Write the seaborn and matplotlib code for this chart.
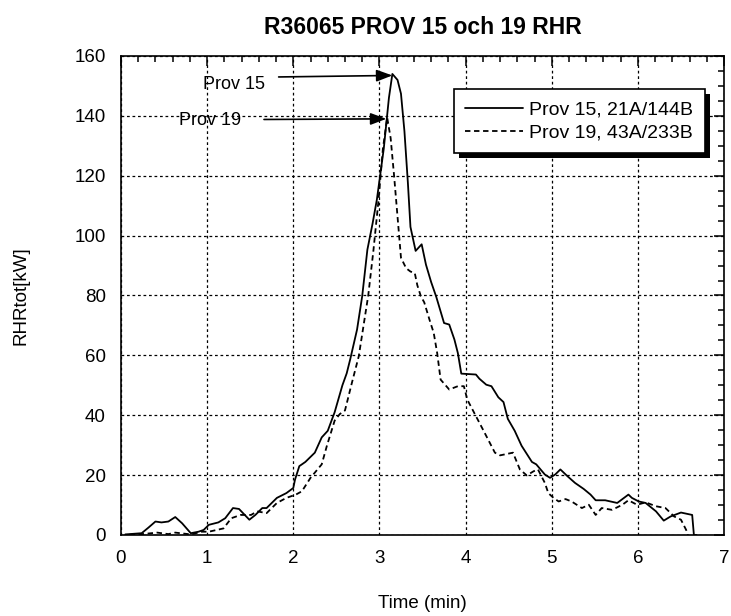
import matplotlib
matplotlib.use("Agg")
import matplotlib.pyplot as plt
from matplotlib.patches import Rectangle
from matplotlib.transforms import IdentityTransform
from matplotlib.ticker import MultipleLocator
import pandas as pd
import seaborn as sns

# Time (min) and total heat release rate (kW) for the two tests
t15 = [0.05, 0.10, 0.24, 0.32, 0.40, 0.47, 0.55, 0.63, 0.71, 0.81,
       0.90, 0.96, 1.02, 1.13, 1.21, 1.30, 1.37, 1.49, 1.56, 1.64,
       1.69, 1.81, 1.92, 2.00, 2.02, 2.07, 2.14, 2.25, 2.33, 2.40,
       2.48, 2.57, 2.62, 2.66, 2.74, 2.80, 2.86, 2.92, 2.97, 3.05,
       3.11, 3.15, 3.21, 3.25, 3.29, 3.33, 3.36, 3.42, 3.49, 3.54,
       3.60, 3.66, 3.75, 3.81, 3.87, 3.91, 3.95, 4.12, 4.16, 4.24,
       4.30, 4.38, 4.44, 4.49, 4.57, 4.65, 4.77, 4.82, 4.92, 4.98,
       5.04, 5.10, 5.18, 5.27, 5.37, 5.45, 5.51, 5.62, 5.76, 5.89,
       5.93, 6.01, 6.09, 6.21, 6.30, 6.38, 6.50, 6.63, 6.65, 6.68]
rhr15 = [0.2, 0.3, 0.6, 2.5, 4.5, 4.2, 4.5, 6.0, 3.9, 0.6,
         1.1, 1.7, 3.4, 4.2, 5.6, 9.0, 8.7, 5.1, 6.7, 9.0,
         9.0, 12.4, 14.0, 15.7, 18.5, 23.0, 24.4, 27.5, 32.6, 34.8,
         41.0, 50.0, 54.0, 58.6, 68.6, 79.8, 95.3, 104.0, 112.0, 129.0,
         146.0, 154.0, 152.0, 147.4, 134.9, 117.7, 102.9, 94.9, 97.1, 90.3,
         84.5, 79.5, 70.8, 70.3, 65.3, 60.8, 53.9, 53.6, 52.2, 50.2,
         49.7, 46.0, 44.4, 38.8, 34.8, 29.8, 24.4, 23.6, 20.2, 19.1,
         20.2, 21.9, 19.7, 17.4, 15.4, 13.5, 11.6, 11.6, 10.7, 13.5,
         12.4, 11.2, 10.7, 7.9, 4.8, 6.2, 7.5, 6.7, 0.0, 0.0]

t19 = [0.10, 0.25, 0.42, 0.55, 0.63, 0.81, 0.94, 1.02, 1.19, 1.28,
       1.39, 1.51, 1.58, 1.69, 1.81, 1.92, 2.03, 2.10, 2.20, 2.33,
       2.39, 2.48, 2.54, 2.60, 2.68, 2.76, 2.82, 2.87, 2.93, 2.99,
       3.04, 3.09, 3.13, 3.17, 3.21, 3.25, 3.31, 3.36, 3.41, 3.44,
       3.48, 3.52, 3.58, 3.63, 3.67, 3.71, 3.81, 3.91, 3.98, 4.02,
       4.10, 4.20, 4.34, 4.40, 4.55, 4.63, 4.71, 4.79, 4.84, 4.92,
       4.96, 5.02, 5.08, 5.16, 5.23, 5.35, 5.43, 5.51, 5.58, 5.70,
       5.82, 5.89, 5.99, 6.09, 6.21, 6.32, 6.42, 6.50, 6.56, 6.58]
rhr19 = [0.1, 0.3, 0.8, 0.3, 0.8, 0.2, 1.1, 1.1, 2.2, 5.6,
         6.7, 6.7, 7.9, 7.3, 10.7, 12.4, 13.5, 14.6, 19.1, 23.6,
         29.8, 38.2, 40.4, 41.6, 50.8, 59.7, 70.8, 80.0, 95.0, 112.0,
         129.0, 139.4, 132.6, 120.0, 106.3, 92.6, 89.1, 88.0, 87.5, 83.4,
         79.8, 77.7, 72.0, 67.5, 60.8, 51.9, 48.6, 49.7, 49.7, 45.2,
         40.8, 35.3, 27.5, 26.6, 27.5, 21.9, 19.9, 21.3, 21.9, 17.4,
         14.0, 12.4, 11.2, 12.0, 11.2, 9.0, 10.1, 6.7, 9.0, 8.4,
         10.1, 11.6, 10.1, 10.9, 9.6, 9.0, 6.2, 5.1, 1.7, 0.0]

label15 = "Prov 15, 21A/144B"
label19 = "Prov 19, 43A/233B"
peak_labels = ["Prov 15", "Prov 19"]
x_ticks = [0, 1, 2, 3, 4, 5, 6, 7]
y_ticks = [0, 20, 40, 60, 80, 100, 120, 140, 160]

df = pd.concat([
    pd.DataFrame({"time": t15, "rhr": rhr15, "prov": label15}),
    pd.DataFrame({"time": t19, "rhr": rhr19, "prov": label19}),
], ignore_index=True)

sns.set_theme(style="white")
plt.rcParams["font.family"] = ["Liberation Sans", "DejaVu Sans"]
plt.rcParams["text.color"] = "black"
plt.rcParams["axes.labelcolor"] = "black"
plt.rcParams["xtick.color"] = "black"
plt.rcParams["ytick.color"] = "black"

fig = plt.figure(figsize=(7.31, 6.16), dpi=100)
ax = fig.add_axes([0.1655, 0.1315, 0.825, 0.7776])

sns.lineplot(data=df, x="time", y="rhr", hue="prov", style="prov",
             palette={label15: "black", label19: "black"},
             dashes={label15: "", label19: (3, 2)},
             estimator=None, sort=False, linewidth=1.3, ax=ax)

ax.set_xlim(0, 7)
ax.set_ylim(0, 160)
ax.set_xticks(x_ticks)
ax.set_yticks(y_ticks)
ax.xaxis.set_minor_locator(MultipleLocator(0.2))
ax.yaxis.set_minor_locator(MultipleLocator(5))
ax.tick_params(which="both", direction="in", top=True, right=True,
               labelsize=13.5, width=1.1, colors="black")
ax.tick_params(which="major", length=7, pad=11)
ax.tick_params(which="minor", length=4.5)
for sp in ax.spines.values():
    sp.set_color("black")
    sp.set_linewidth(1.2)

ax.grid(True, which="major", color="black", linestyle=(0, (2.2, 2.2)),
        linewidth=0.9)

ax.set_xlabel("Time (min)", fontsize=13.5)
ax.set_ylabel("RHRtot[kW]", fontsize=13.5)
ax.xaxis.set_label_coords(0.5, -0.125)
ax.yaxis.set_label_coords(-0.152, 0.5)
ax.set_title("R36065 PROV 15 och 19 RHR", fontsize=16.5,
             fontweight="bold", pad=16)

# Peak markers
arrow_style = dict(arrowstyle="-|>,head_length=0.8,head_width=0.3",
                   color="black", lw=1.2, shrinkA=0, shrinkB=0)
ax.text(1.31, 150.5, peak_labels[0], fontsize=13, ha="center", va="center")
ax.annotate("", xy=(3.15, 153.5), xytext=(1.83, 153.0), arrowprops=arrow_style)
ax.text(1.03, 138.5, peak_labels[1], fontsize=13, ha="center", va="center")
ax.annotate("", xy=(3.08, 139.0), xytext=(1.66, 138.8), arrowprops=arrow_style)

handles, labels = ax.get_legend_handles_labels()
leg = ax.legend(handles, labels, loc="upper right",
                bbox_to_anchor=(0.9685, 0.931), borderaxespad=0,
                fontsize=14, frameon=True, fancybox=False, framealpha=1,
                edgecolor="black", handlelength=2.95, handletextpad=0.35,
                labelspacing=0.3, borderpad=0.6)
leg.get_frame().set_linewidth(1.2)
leg.set_zorder(6)
for line in leg.get_lines():
    line.set_linewidth(1.3)

# Solid drop shadow behind the legend box
fig.canvas.draw()
bb = leg.get_window_extent()
shadow = Rectangle((bb.x0 + 5, bb.y0 - 5), bb.width, bb.height,
                   transform=IdentityTransform(), facecolor="black",
                   edgecolor="none", zorder=5.5, clip_on=False)
ax.add_artist(shadow)

fig.savefig("out.png", dpi=100)
